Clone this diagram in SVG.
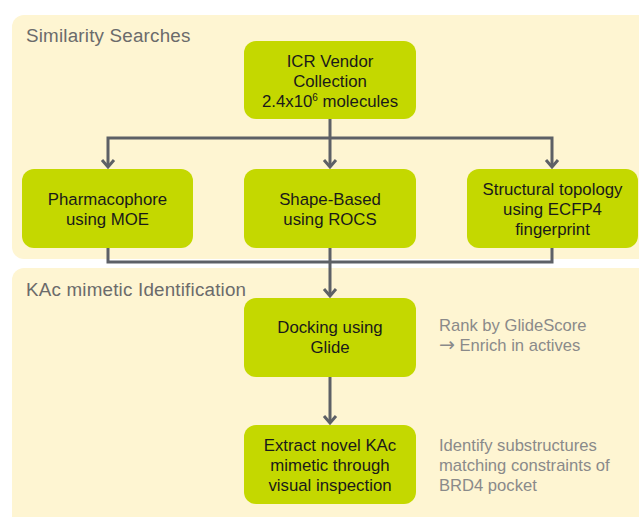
<svg xmlns="http://www.w3.org/2000/svg" width="639" height="517" viewBox="0 0 639 517">
<defs>
<style>
.panel{fill:#fef5d2}
.node{fill:#c4d800}
.nt{font-family:"Liberation Sans",Arial,sans-serif;font-size:16.8px;fill:#1a1a1a;text-anchor:middle}
.title{font-family:"Liberation Sans",Arial,sans-serif;font-size:18.8px;fill:#6b6b6b;letter-spacing:0.2px}
.side{font-family:"Liberation Sans",Arial,sans-serif;font-size:16.6px;fill:#8a8a8a}
.arr{font-family:"DejaVu Sans",sans-serif;font-size:19px}
.conn{fill:none;stroke:#5d6066;stroke-width:3}
.head{fill:none;stroke:#5d6066;stroke-width:3;stroke-linejoin:miter}
</style>
</defs>
<rect width="639" height="517" fill="#ffffff"/>
<g id="panel-similarity">
<rect class="panel" x="12" y="15" width="640" height="244" rx="12"/>
<text class="title" x="26" y="42">Similarity Searches</text>
</g>
<g id="panel-kac">
<rect class="panel" x="12" y="268" width="640" height="260" rx="12"/>
<text class="title" x="26" y="296">KAc mimetic Identification</text>
</g>
<g id="connectors">
<path class="conn" d="M330 119 V138 M108 167 V138 H552 V167 M330 138 V167"/>
<path class="head" d="M102 160 L108 167 L114 160 M324 160 L330 167 L336 160 M546 160 L552 167 L558 160"/>
<path class="conn" d="M108 248 V262 H552 V248 M330 248 V296"/>
<path class="head" d="M324 289 L330 296 L336 289"/>
<path class="conn" d="M330 377 V423"/>
<path class="head" d="M324 416 L330 423 L336 416"/>
</g>
<g id="node-icr">
<rect class="node" x="244" y="41" width="172" height="78" rx="12"/>
<text class="nt" x="330" y="67">ICR Vendor</text>
<text class="nt" x="330" y="87">Collection</text>
<text class="nt" x="330" y="107">2.4x10<tspan font-size="10" dy="-6">6</tspan><tspan dy="6"> molecules</tspan></text>
</g>
<g id="node-pharmacophore">
<rect class="node" x="22" y="169" width="171" height="79" rx="12"/>
<text class="nt" x="107.5" y="205">Pharmacophore</text>
<text class="nt" x="107.5" y="225">using MOE</text>
</g>
<g id="node-shape">
<rect class="node" x="244" y="169" width="172" height="79" rx="12"/>
<text class="nt" x="330" y="205">Shape-Based</text>
<text class="nt" x="330" y="225">using ROCS</text>
</g>
<g id="node-structural">
<rect class="node" x="467" y="169" width="171" height="79" rx="12"/>
<text class="nt" x="552.5" y="195">Structural topology</text>
<text class="nt" x="552.5" y="215">using ECFP4</text>
<text class="nt" x="552.5" y="235">fingerprint</text>
</g>
<g id="node-docking">
<rect class="node" x="244" y="298" width="172" height="79" rx="12"/>
<text class="nt" x="330" y="333">Docking using</text>
<text class="nt" x="330" y="353">Glide</text>
</g>
<g id="node-extract">
<rect class="node" x="244" y="425" width="172" height="79" rx="12"/>
<text class="nt" x="330" y="451">Extract novel KAc</text>
<text class="nt" x="330" y="471">mimetic through</text>
<text class="nt" x="330" y="491">visual inspection</text>
</g>
<g id="notes">
<text class="side" x="439" y="331">Rank by GlideScore</text>
<text class="side" x="439" y="351"><tspan class="arr">→</tspan> Enrich in actives</text>
<text class="side" x="439" y="451">Identify substructures</text>
<text class="side" x="439" y="471">matching constraints of</text>
<text class="side" x="439" y="491">BRD4 pocket</text>
</g>
</svg>
